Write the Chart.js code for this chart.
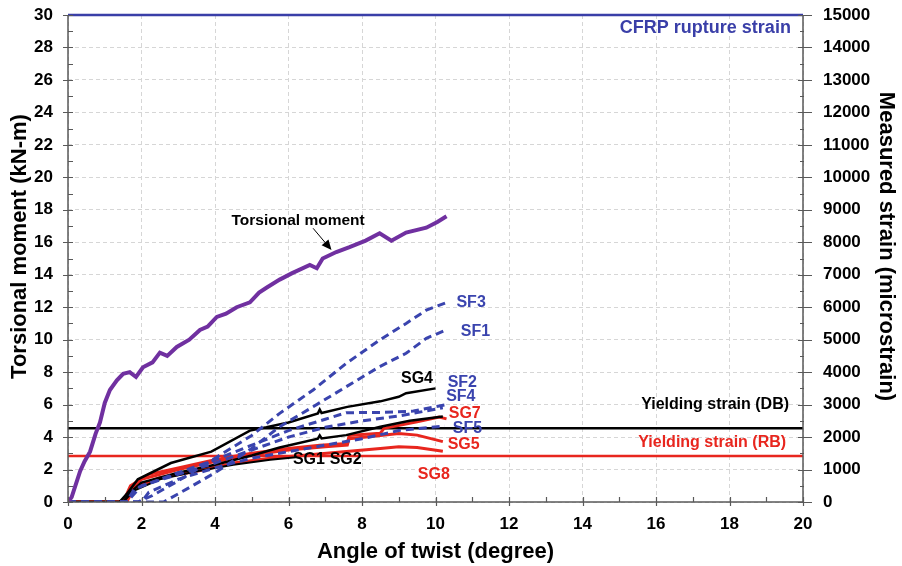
<!DOCTYPE html>
<html>
<head>
<meta charset="utf-8">
<script src="https://cdn.jsdelivr.net/npm/chart.js@4.4.1/dist/chart.umd.min.js"></script>
<style>
  html, body { margin: 0; padding: 0; background: #fff; }
</style>
</head>
<body>
<canvas id="c" width="902" height="566"></canvas>
<script>
// torsional moment (left axis, kN-m)
const tmAngle  = [0, 0.1, 0.33, 0.45, 0.6, 0.75, 0.87, 1.0, 1.14, 1.33, 1.5, 1.68, 1.85, 2.04, 2.3, 2.5, 2.7, 2.96, 3.3, 3.59, 3.8, 4.05, 4.3, 4.59, 4.95, 5.2, 5.4, 5.76, 6.1, 6.58, 6.77, 6.93, 7.3, 7.66, 8.1, 8.48, 8.8, 9.2, 9.75, 10.05, 10.3];
const tmMoment = [0, 0.3, 1.9, 2.5, 3.1, 4.2, 4.9, 6.1, 6.9, 7.5, 7.9, 8.0, 7.7, 8.3, 8.6, 9.2, 9.0, 9.55, 10.0, 10.6, 10.8, 11.4, 11.6, 12.0, 12.3, 12.9, 13.2, 13.7, 14.1, 14.6, 14.4, 15.0, 15.4, 15.7, 16.1, 16.55, 16.1, 16.6, 16.9, 17.25, 17.6];

// strain gauges on CFRP (right axis, microstrain)
const sf3Angle = [0, 1.9, 2.3, 3, 4, 5, 5.76, 6.67, 7.57, 8.48, 9.2, 9.75, 10.29];
const sf3Strain = [0, 0, 200, 650, 1350, 2050, 2730, 3450, 4270, 4990, 5500, 5910, 6140];
const sf1Angle = [0, 2.6, 3, 4, 5, 5.76, 6.67, 7.57, 8.48, 9.2, 9.75, 10.29];
const sf1Strain = [0, 0, 250, 900, 1650, 2320, 2935, 3550, 4170, 4580, 5040, 5300];
const sf2Angle = [0, 1.6, 1.8, 2.5, 3, 4, 5, 6, 7, 7.57, 8.5, 9.4, 10.3];
const sf2Strain = [0, 0, 400, 700, 900, 1300, 1750, 2200, 2550, 2750, 2760, 2800, 3000];
const sf4Angle = [0, 1.6, 2, 3, 4, 5, 6, 7, 8, 9, 10.2];
const sf4Strain = [0, 0, 500, 850, 1200, 1600, 2000, 2300, 2500, 2650, 2900];
const sf5Angle = [0, 2.0, 2.2, 3, 4, 5, 6, 7, 8, 9, 10.25];
const sf5Strain = [0, 0, 300, 700, 1050, 1350, 1550, 1750, 1950, 2200, 2340];

// strain gauges on steel (right axis, microstrain)
const sg4Angle = [0, 1.4, 1.6, 1.9, 2.8, 3.9, 4.95, 5.4, 6.0, 6.8, 6.85, 6.9, 7.6, 8.5, 9.0, 9.2, 10.0];
const sg4Strain = [0, 0, 250, 700, 1200, 1550, 2200, 2300, 2450, 2730, 2850, 2740, 2930, 3100, 3240, 3350, 3500];
const sg2Angle = [0, 1.5, 1.7, 2, 3, 4, 5, 5.76, 6.8, 6.85, 6.9, 7.57, 8.5, 9.3, 10.2];
const sg2Strain = [0, 0, 300, 600, 900, 1150, 1430, 1680, 1950, 2050, 1960, 2060, 2320, 2500, 2630];
const sg1Angle = [0, 1.5, 1.8, 2.5, 3.5, 4.5, 5.5, 6.2];
const sg1Strain = [0, 0, 350, 700, 950, 1150, 1300, 1380];
const sg7Angle = [0, 1.5, 1.7, 2.2, 3, 4, 5, 6, 6.85, 7.6, 7.65, 8.5, 8.6, 9.5, 10.1, 10.3];
const sg7Strain = [0, 0, 500, 850, 1050, 1300, 1500, 1650, 1750, 1800, 2050, 2120, 2270, 2470, 2620, 2560];
const sg5Angle = [0, 1.5, 1.7, 2, 3, 4, 5, 6, 7, 7.6, 7.65, 8.5, 9, 9.5, 10.2];
const sg5Strain = [0, 0, 400, 700, 1000, 1250, 1450, 1600, 1700, 1750, 1950, 2050, 2110, 2060, 1860];
const sg8Angle = [0, 1.6, 1.8, 2.5, 3.5, 4.5, 5.5, 6.5, 7.5, 8.5, 9, 9.5, 10.2];
const sg8Strain = [0, 0, 450, 750, 950, 1200, 1350, 1450, 1550, 1650, 1700, 1680, 1560];

// reference strain levels
const cfrpRupture = 15000;
const yieldDB = 2270;
const yieldRB = 1420;

const FONT = '"Liberation Sans", Arial, sans-serif';
const PURPLE = '#7030A0';
const BLUE = '#3A44AE';
const RED = '#E8261E';
const BLACK = '#000000';
const AXIS = '#595959';

function pts(xs, ys) {
  return xs.map((v, i) => ({ x: v, y: ys[i] }));
}

function curve(label, xs, ys, color, dashed, width) {
  return {
    label: label,
    data: pts(xs, ys),
    yAxisID: 'y2',
    borderColor: color,
    borderWidth: width || 2.5,
    borderDash: dashed ? [8, 5] : [],
    pointRadius: 0,
    tension: 0
  };
}

function hline(label, v, color) {
  return {
    label: label,
    data: [{ x: 0, y: v }, { x: 20, y: v }],
    yAxisID: 'y2',
    borderColor: color,
    borderWidth: 2.5,
    pointRadius: 0,
    clip: false
  };
}

const datasets = [
  {
    label: 'Torsional moment',
    data: pts(tmAngle, tmMoment),
    yAxisID: 'y',
    borderColor: PURPLE,
    borderWidth: 4,
    pointRadius: 0,
    tension: 0
  },
  curve('SF3', sf3Angle, sf3Strain, BLUE, true, 3),
  curve('SF1', sf1Angle, sf1Strain, BLUE, true, 3),
  curve('SF2', sf2Angle, sf2Strain, BLUE, true, 3),
  curve('SF4', sf4Angle, sf4Strain, BLUE, true, 3),
  curve('SF5', sf5Angle, sf5Strain, BLUE, true, 3),
  curve('SG4', sg4Angle, sg4Strain, BLACK, false, 2.5),
  curve('SG2', sg2Angle, sg2Strain, BLACK, false, 2.5),
  curve('SG1', sg1Angle, sg1Strain, BLACK, false, 2),
  curve('SG7', sg7Angle, sg7Strain, RED, false, 3),
  curve('SG5', sg5Angle, sg5Strain, RED, false, 3),
  curve('SG8', sg8Angle, sg8Strain, RED, false, 3),
  hline('Yielding strain (DB)', yieldDB, BLACK),
  hline('Yielding strain (RB)', yieldRB, RED),
  hline('CFRP rupture strain', cfrpRupture, '#3A3FA8')
];

// text notes placed in data units
const notes = [
  { t: 'SF3', x: 10.57, y: 6130, c: BLUE, a: 'left' },
  { t: 'SF1', x: 10.69, y: 5250, c: BLUE, a: 'left' },
  { t: 'SG4', x: 9.06, y: 3790, c: BLACK, a: 'left' },
  { t: 'SF2', x: 10.33, y: 3665, c: BLUE, a: 'left' },
  { t: 'SF4', x: 10.29, y: 3245, c: BLUE, a: 'left' },
  { t: 'SG7', x: 10.36, y: 2730, c: RED, a: 'left' },
  { t: 'SF5', x: 10.47, y: 2270, c: BLUE, a: 'left' },
  { t: 'SG5', x: 10.33, y: 1780, c: RED, a: 'left' },
  { t: 'SG8', x: 9.52, y: 830, c: RED, a: 'left' },
  { t: 'SG1', x: 6.12, y: 1295, c: BLACK, a: 'left' },
  { t: 'SG2', x: 7.12, y: 1295, c: BLACK, a: 'left' },
  { t: 'Yielding strain (DB)', x: 19.62, y: 2990, c: BLACK, a: 'right' },
  { t: 'Yielding strain (RB)', x: 19.54, y: 1815, c: RED, a: 'right' },
  { t: 'CFRP rupture strain', x: 19.67, y: 14600, c: '#3A3FA8', a: 'right', s: 18 }
];

const extras = {
  id: 'extras',
  afterDatasetsDraw(chart) {
    const ctx = chart.ctx;
    const a = chart.chartArea;
    const x = chart.scales.x, y = chart.scales.y, y2 = chart.scales.y2;
    ctx.save();

    // axis lines
    ctx.strokeStyle = AXIS;
    ctx.lineWidth = 1.5;
    ctx.beginPath();
    ctx.moveTo(a.left, a.top); ctx.lineTo(a.left, a.bottom); ctx.lineTo(a.right, a.bottom);
    ctx.moveTo(a.right, a.top); ctx.lineTo(a.right, a.bottom);
    ctx.stroke();

    // tick marks: major ones cross the axis, minor ones sit inside
    ctx.lineWidth = 1.2;
    ctx.beginPath();
    for (let v = 0; v <= 20; v += 1) {
      const p = Math.round(x.getPixelForValue(v)) + 0.5;
      const major = v % 2 === 0;
      ctx.moveTo(p, a.bottom - 5);
      ctx.lineTo(p, a.bottom + (major ? 4 : 0));
    }
    for (let v = 0; v <= 30; v += 1) {
      const p = Math.round(y.getPixelForValue(v)) + 0.5;
      const major = v % 2 === 0;
      ctx.moveTo(a.left - (major ? 5 : 0), p);
      ctx.lineTo(a.left + 5, p);
    }
    for (let v = 0; v <= 15000; v += 500) {
      const p = Math.round(y2.getPixelForValue(v)) + 0.5;
      const major = v % 1000 === 0;
      ctx.moveTo(a.right - (major ? 5 : 3), p);
      ctx.lineTo(a.right + (major ? 9 : 1), p);
    }
    ctx.stroke();

    // curve labels
    ctx.textBaseline = 'middle';
    notes.forEach(n => {
      ctx.font = 'bold ' + (n.s || 16) + 'px ' + FONT;
      ctx.fillStyle = n.c;
      ctx.textAlign = n.a;
      ctx.fillText(n.t, x.getPixelForValue(n.x), y2.getPixelForValue(n.y));
    });

    // torsional moment label and arrow
    ctx.font = 'bold 15.5px ' + FONT;
    ctx.fillStyle = BLACK;
    ctx.textAlign = 'left';
    ctx.fillText('Torsional moment', x.getPixelForValue(4.45), y.getPixelForValue(17.3));
    const x0 = x.getPixelForValue(6.67), yA = y.getPixelForValue(16.86);
    const x1 = x.getPixelForValue(7.17), yB = y.getPixelForValue(15.52);
    const ang = Math.atan2(yB - yA, x1 - x0);
    ctx.strokeStyle = BLACK;
    ctx.lineWidth = 1;
    ctx.beginPath();
    ctx.moveTo(x0, yA);
    ctx.lineTo(x1 - 8 * Math.cos(ang), yB - 8 * Math.sin(ang));
    ctx.stroke();
    ctx.beginPath();
    ctx.moveTo(x1, yB);
    ctx.lineTo(x1 - 10 * Math.cos(ang) + 4.5 * Math.sin(ang), yB - 10 * Math.sin(ang) - 4.5 * Math.cos(ang));
    ctx.lineTo(x1 - 10 * Math.cos(ang) - 4.5 * Math.sin(ang), yB - 10 * Math.sin(ang) + 4.5 * Math.cos(ang));
    ctx.closePath();
    ctx.fill();

    // axis titles
    ctx.font = 'bold 22px ' + FONT;
    ctx.textAlign = 'center';
    ctx.fillStyle = BLACK;
    const midY = (a.top + a.bottom) / 2 - 12;
    ctx.fillText('Angle of twist (degree)', (a.left + a.right) / 2, 552);
    ctx.save();
    ctx.translate(20, midY);
    ctx.rotate(-Math.PI / 2);
    ctx.fillText('Torsional moment (kN-m)', 0, 0);
    ctx.restore();
    ctx.save();
    ctx.translate(886, midY);
    ctx.rotate(Math.PI / 2);
    ctx.fillText('Measured strain (microstrain)', 0, 0);
    ctx.restore();

    ctx.restore();
  }
};

const tickFont = { family: FONT, size: 17, weight: 'bold' };
const gridStyle = { color: '#D6D6D6', lineWidth: 1, drawTicks: false };

new Chart(document.getElementById('c'), {
  type: 'line',
  data: { datasets: datasets },
  options: {
    responsive: false,
    animation: false,
    layout: { padding: { top: 15, left: 0, right: 0, bottom: 0 } },
    plugins: { legend: { display: false }, tooltip: { enabled: false } },
    scales: {
      x: {
        type: 'linear', min: 0, max: 20,
        ticks: { stepSize: 2, font: tickFont, color: BLACK, padding: 12, maxRotation: 0 },
        grid: gridStyle,
        border: { display: false, dash: [4, 3] },
        afterFit: s => { s.height = 64; s.paddingLeft = 0; s.paddingRight = 0; }
      },
      y: {
        position: 'left', min: 0, max: 30,
        ticks: { stepSize: 2, font: tickFont, color: BLACK, padding: 15 },
        grid: gridStyle,
        border: { display: false, dash: [4, 3] },
        afterFit: s => { s.width = 68; s.paddingTop = 0; s.paddingBottom = 0; }
      },
      y2: {
        position: 'right', min: 0, max: 15000,
        ticks: { stepSize: 1000, font: tickFont, color: BLACK, padding: 20, callback: v => String(v) },
        grid: { display: false, drawTicks: false },
        border: { display: false },
        afterFit: s => { s.width = 99; s.paddingTop = 0; s.paddingBottom = 0; }
      }
    }
  },
  plugins: [extras]
});
</script>
</body>
</html>
